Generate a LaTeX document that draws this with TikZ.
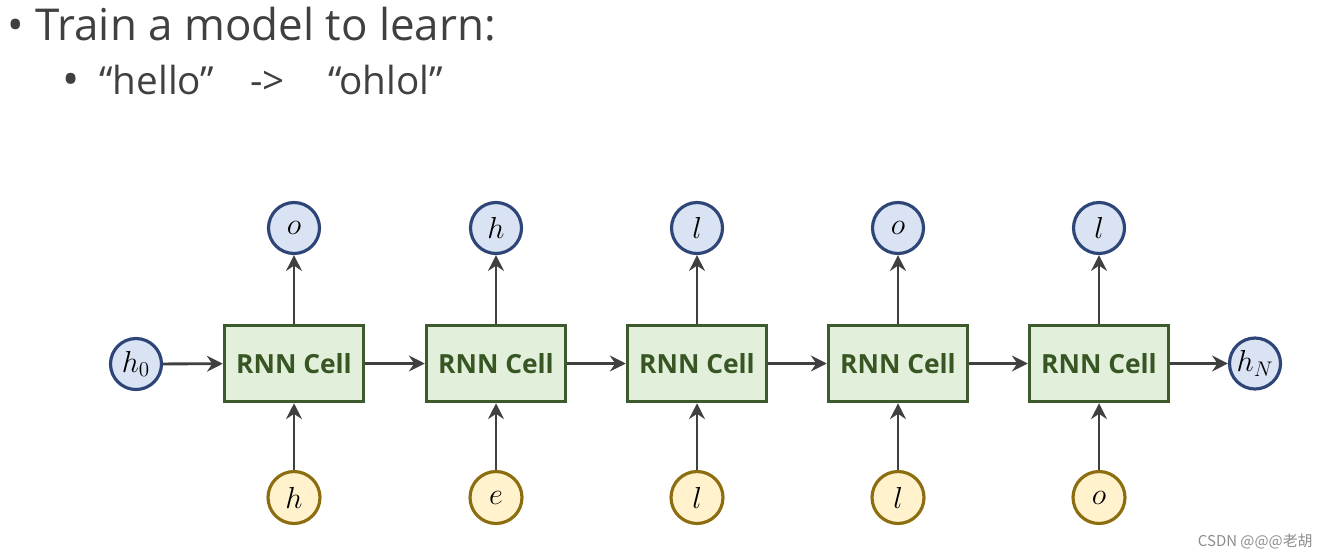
\documentclass[tikz,border=0pt]{standalone}
\usepackage{fontspec}
\setsansfont{Open Sans}
\newfontfamily\cjkfont{Noto Sans CJK SC}
\usetikzlibrary{arrows.meta}

\definecolor{inkgray}{HTML}{404040}
\definecolor{cellfill}{HTML}{E2EFDA}
\definecolor{cellborder}{HTML}{3D5A2C}
\definecolor{celltext}{HTML}{375623}
\definecolor{outfill}{HTML}{DAE3F3}
\definecolor{outborder}{HTML}{2E4677}
\definecolor{infill}{HTML}{FFF2CC}
\definecolor{inborder}{HTML}{8C6D0F}

\tikzset{
  cell/.style={draw=cellborder, fill=cellfill, line width=2pt, minimum width=2.78cm, minimum height=1.52cm, inner sep=0pt, text=celltext, font=\sffamily\bfseries\fontsize{15}{18}\selectfont},
  outcirc/.style={circle, draw=outborder, fill=outfill, line width=1.8pt, minimum size=1.02cm, inner sep=0pt, font=\fontsize{18}{22}\selectfont},
  incirc/.style={circle, draw=inborder, fill=infill, line width=1.8pt, minimum size=1.04cm, inner sep=0pt, font=\fontsize{18}{22}\selectfont},
  flow/.style={draw=inkgray, line width=1.6pt, -{Stealth[length=9pt,width=9pt,inset=3pt]}},
  slidetext/.style={anchor=base west, inner sep=0pt, text=inkgray, font=\sffamily}
}

\begin{document}
\begin{tikzpicture}[x=0.02cm, y=-0.02cm]
  \useasboundingbox (0,0) rectangle (1327,558);

  % slide text
  \node[slidetext, font=\sffamily\fontsize{25}{30}\selectfont] (bullet1) at (7,40) {•};
  \node[slidetext, font=\sffamily\fontsize{25}{30}\selectfont] (title) at (35,40) {Train a model to learn:};
  \node[slidetext, font=\sffamily\fontsize{26}{30}\selectfont] (bullet2) at (62,95) {•};
  \node[slidetext, font=\sffamily\fontsize{22}{26}\selectfont] (src) at (99,94) {“hello”};
  \node[slidetext, font=\sffamily\fontsize{22}{26}\selectfont] (maps) at (250,94) {->};
  \node[slidetext, font=\sffamily\fontsize{22}{26}\selectfont] (dst) at (328,94) {“ohlol”};

  % unrolled cells
  \foreach \i/\x/\inch/\outch in {1/294/h/o, 2/496/e/h, 3/697/l/l, 4/898/l/o, 5/1099/o/l}{
    \node[cell] (cell\i) at (\x,363.5) {RNN Cell};
    \node[outcirc] (out\i) at (\x,228) {$\outch$};
    \node[incirc] (in\i) at (\x,497.5) {$\inch$};
    \draw[flow] (cell\i) -- (out\i);
    \draw[flow] (in\i) -- (cell\i);
  }

  \node[outcirc] (h0) at (136,364) {$h_0$};
  \node[outcirc] (hN) at (1255,363.5) {$h_N$};

  \draw[flow] (h0) -- (cell1);
  \foreach \i [evaluate=\i as \j using int(\i+1)] in {1,...,4}
    \draw[flow] (cell\i) -- (cell\j);
  \draw[flow] (cell5) -- (hN);

  \node[anchor=base east, inner sep=0pt, text=black!45, font=\cjkfont\fontsize{8.5}{10}\selectfont] (mark) at (1313,546) {CSDN @@@老胡};
\end{tikzpicture}
\end{document}
